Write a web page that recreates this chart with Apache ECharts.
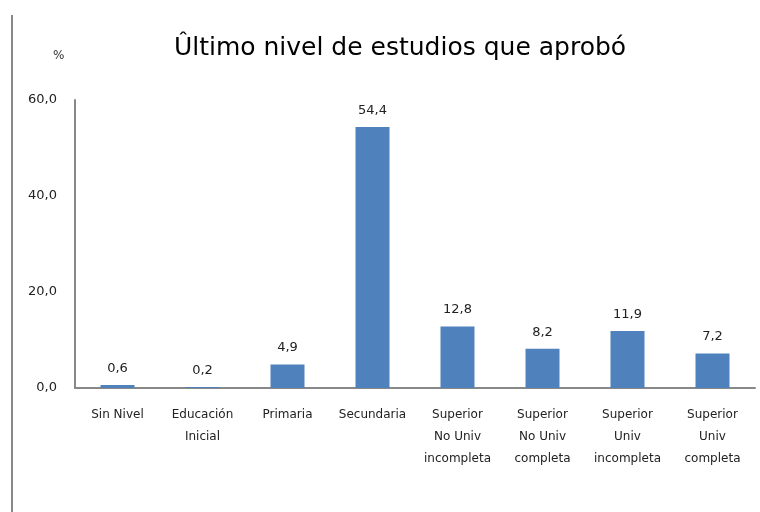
<!DOCTYPE html>
<html>
<head>
<meta charset="utf-8">
<script src="https://cdn.jsdelivr.net/npm/echarts@6/dist/echarts.min.js"></script>
<style>
  html, body { margin: 0; padding: 0; background: #fff; }
  #chart { width: 760px; height: 512px; }
</style>
</head>
<body>
<div id="chart"></div>
<script>
// datos del gráfico
const categorias = [
  'Sin Nivel',
  'Educación\nInicial',
  'Primaria',
  'Secundaria',
  'Superior\nNo Univ\nincompleta',
  'Superior\nNo Univ\ncompleta',
  'Superior\nUniv\nincompleta',
  'Superior\nUniv\ncompleta'
]
const porcentajes = [0.6, 0.2, 4.9, 54.4, 12.8, 8.2, 11.9, 7.2]
const ticksY = [0, 20, 40, 60]

const fmt = v => v.toFixed(1).replace('.', ',')

const chart = echarts.init(document.getElementById('chart'))

chart.setOption({
  backgroundColor: '#ffffff',
  animation: false,
  textStyle: { fontFamily: 'DejaVu Sans' },
  title: {
    text: 'Ûltimo nivel de estudios que aprobó',
    left: 395,
    top: 31,
    textAlign: 'center',
    textStyle: { fontSize: 25, fontWeight: 'normal', color: '#000' }
  },
  graphic: [
    {
      type: 'line',
      shape: { x1: 12, y1: 15, x2: 12, y2: 512 },
      style: { stroke: '#888', lineWidth: 2 }
    },
    {
      type: 'text',
      left: 53,
      top: 50,
      style: { text: '%', fontSize: 12, fill: '#333', fontFamily: 'DejaVu Sans' }
    }
  ],
  grid: { left: 75, right: 5, top: 100, bottom: 124 },
  xAxis: {
    type: 'category',
    data: categorias,
    axisLine: { lineStyle: { color: '#888', width: 2 } },
    axisTick: { show: false },
    axisLabel: {
      interval: 0,
      color: '#222',
      fontSize: 12,
      lineHeight: 22,
      margin: 16
    }
  },
  yAxis: {
    type: 'value',
    min: ticksY[0],
    max: ticksY[ticksY.length - 1],
    interval: 20,
    axisLine: { show: true, lineStyle: { color: '#888', width: 2 } },
    axisTick: { show: false },
    splitLine: { show: false },
    axisLabel: { color: '#222', fontSize: 13, margin: 18, formatter: v => fmt(v) }
  },
  series: [{
    type: 'bar',
    data: porcentajes,
    barWidth: 34,
    itemStyle: { color: '#4F81BD' },
    label: {
      show: true,
      position: 'top',
      distance: 10,
      color: '#222',
      fontSize: 13,
      formatter: p => fmt(p.value)
    }
  }]
})
</script>
</body>
</html>
